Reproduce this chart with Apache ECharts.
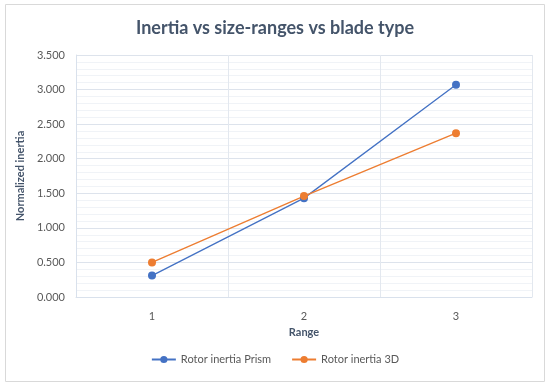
<!DOCTYPE html>
<html><head><meta charset="utf-8">
<script src="https://cdn.jsdelivr.net/npm/echarts@6/dist/echarts.min.js"></script>
<style>html,body{margin:0;padding:0;background:#fff}#c{width:550px;height:386px}</style>
</head><body><div id="c"></div>
<script>
var categories = ['1', '2', '3'];
var prism = [0.31, 1.43, 3.07];
var threeD = [0.50, 1.46, 2.37];
var yTicks = [0, 0.5, 1, 1.5, 2, 2.5, 3, 3.5];

var chart = echarts.init(document.getElementById('c'), null, {renderer: 'canvas'});
var font = 'Lato, "Open Sans", sans-serif';
chart.setOption({
  animation: false,
  graphic: [{type: 'rect', shape: {x: 5.5, y: 4.5, width: 539, height: 377}, style: {fill: 'none', stroke: '#d9d9d9', lineWidth: 1}, silent: true}],
  title: {text: 'Inertia vs size-ranges vs blade type', left: 'center', top: 14,
    textStyle: {fontFamily: font, fontSize: 18, fontWeight: 'bold', color: '#44546a'}},
  grid: {left: 76, right: 18, top: 55, bottom: 89},
  legend: {bottom: 16, left: 'center', itemWidth: 24, itemHeight: 9, itemGap: 20,
    textStyle: {fontFamily: font, fontSize: 11, color: '#595959'}},
  xAxis: {type: 'category', data: categories, boundaryGap: true, name: 'Range', nameLocation: 'middle', nameGap: 25,
    nameTextStyle: {fontFamily: font, fontSize: 11, fontWeight: 'bold', color: '#44546a'},
    axisLine: {lineStyle: {color: '#d9e1ec'}}, axisTick: {show: false},
    axisLabel: {fontFamily: font, fontSize: 11, color: '#595959', margin: 14},
    splitLine: {show: true, lineStyle: {color: '#e3e8ef'}}},
  yAxis: {type: 'value', min: 0, max: 3.5, interval: 0.5, name: 'Normalized inertia', nameLocation: 'middle', nameGap: 44,
    nameTextStyle: {fontFamily: font, fontSize: 11, fontWeight: 'bold', color: '#44546a'},
    axisLine: {show: true, lineStyle: {color: '#d9e1ec'}}, axisTick: {show: false},
    axisLabel: {fontFamily: font, fontSize: 11, color: '#595959', margin: 11, formatter: function(v){return v.toFixed(3);}},
    splitLine: {lineStyle: {color: '#dde3ec'}},
    minorTick: {show: false, splitNumber: 5},
    minorSplitLine: {show: true, lineStyle: {color: '#f0f3f7'}}},
  series: [
    {name: 'Rotor inertia Prism', type: 'line', data: prism, symbol: 'circle', symbolSize: 8,
      itemStyle: {color: '#4472c4'}, lineStyle: {width: 1.3, color: '#4472c4'}},
    {name: 'Rotor inertia 3D', type: 'line', data: threeD, symbol: 'circle', symbolSize: 8,
      itemStyle: {color: '#ed7d31'}, lineStyle: {width: 1.3, color: '#ed7d31'}}
  ]
});
</script></body></html>
